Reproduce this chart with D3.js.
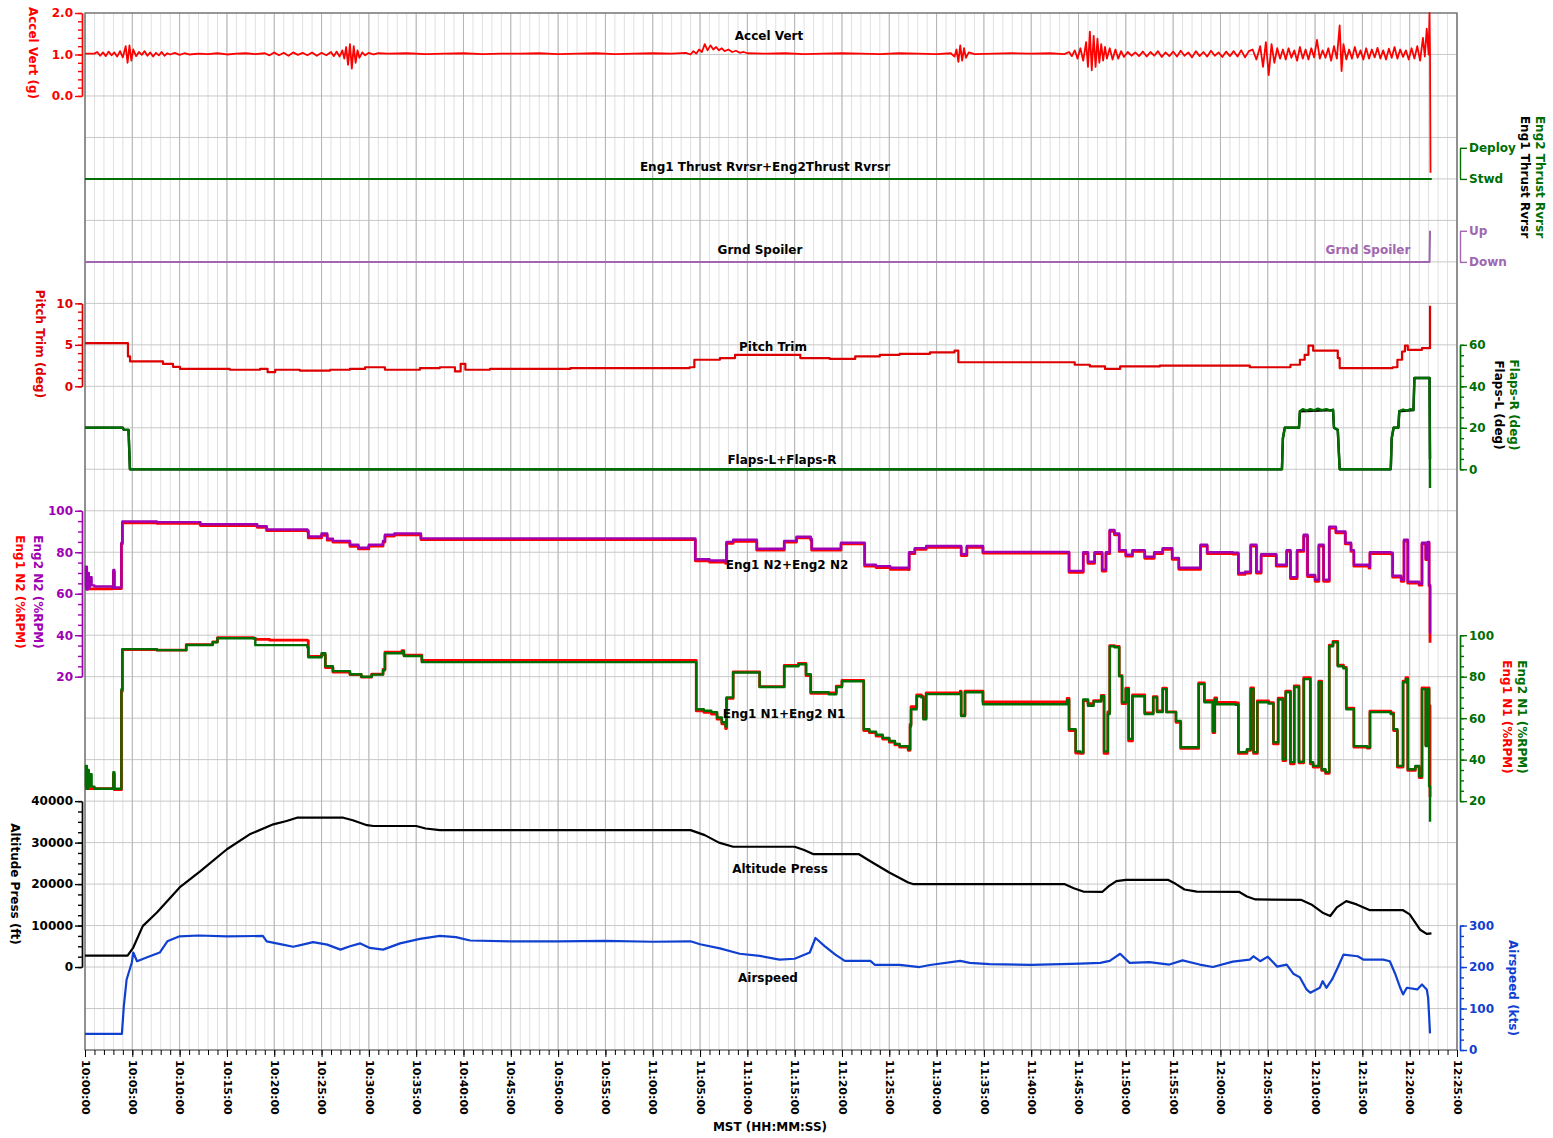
<!DOCTYPE html>
<html>
<head>
<meta charset="utf-8">
<script src="https://cdn.jsdelivr.net/npm/d3@7"></script>
<style>
  body { margin: 0; background: #fff; }
  svg { display: block; font-family: "DejaVu Sans", Verdana, sans-serif; font-weight: bold; }
</style>
</head>
<body>
<div class="chart"></div>
<script>
// all times are minutes after 10:00:00 MST
const accelVert = [[0,1.02],[1,1.02],[1.3,1.06],[1.6,0.97],[1.9,1.05],[2.2,0.96],[2.5,1.07],[2.8,0.98],[3.1,1.05],[3.4,0.95],[3.7,1.08],[4.0,0.93],[4.3,1.2],[4.5,0.8],[4.7,1.22],[4.9,0.85],[5.1,1.12],[5.4,0.96],[5.7,1.06],[6.0,0.99],[6.3,1.08],[6.6,0.97],[6.9,1.05],[7.2,0.95],[7.5,1.04],[7.8,0.98],[8.1,1.06],[8.4,0.97],[8.7,1.03],[9.0,1.0],[9.5,1.04],[10,0.99],[10.5,1.03],[11,1.0],[12,1.02],[13,1.01],[14,1.03],[15,1.0],[16,1.02],[17,1.03],[18,1.01],[19,1.03],[19.5,0.98],[20,1.05],[20.5,0.98],[21,1.04],[21.5,0.97],[22,1.05],[22.5,0.99],[23,1.04],[23.5,0.98],[24,1.05],[24.5,0.97],[25,1.04],[25.5,0.98],[26,1.06],[26.3,0.96],[26.6,1.07],[26.9,0.95],[27.2,1.1],[27.4,0.9],[27.6,1.18],[27.8,0.75],[28.0,1.25],[28.2,0.66],[28.4,1.2],[28.6,0.8],[28.8,1.1],[29.0,0.92],[29.3,1.05],[29.6,0.98],[30,1.04],[30.5,1.0],[31,1.03],[32,1.02],[34,1.03],[36,1.01],[38,1.02],[40,1.03],[42,1.01],[44,1.02],[46,1.02],[48,1.03],[50,1.01],[52,1.02],[54,1.03],[56,1.01],[58,1.02],[60,1.03],[62,1.02],[63.5,1.04],[64,1.0],[64.3,1.08],[64.6,1.02],[64.9,1.12],[65.2,1.06],[65.5,1.25],[65.8,1.1],[66.1,1.22],[66.4,1.12],[66.7,1.18],[67.0,1.1],[67.3,1.15],[67.6,1.08],[68,1.12],[68.4,1.06],[68.8,1.09],[69.2,1.04],[69.6,1.06],[70,1.03],[72,1.02],[74,1.03],[76,1.01],[78,1.02],[80,1.03],[82,1.02],[84,1.01],[86,1.03],[88,1.02],[90,1.01],[91.5,1.03],[91.9,0.95],[92.1,1.12],[92.3,0.82],[92.5,1.22],[92.7,0.85],[92.9,1.15],[93.1,0.92],[93.4,1.05],[94,1.01],[96,1.02],[98,1.03],[100,1.02],[102,1.03],[103.5,1.01],[104,1.06],[104.3,0.96],[104.6,1.1],[104.9,0.9],[105.2,1.15],[105.5,0.85],[105.8,1.3],[106.0,0.7],[106.2,1.55],[106.4,0.62],[106.6,1.45],[106.8,0.7],[107.0,1.38],[107.2,0.8],[107.4,1.25],[107.6,0.85],[107.8,1.18],[108.0,0.9],[108.3,1.15],[108.6,0.88],[108.9,1.12],[109.2,0.9],[109.5,1.08],[109.8,0.94],[110.2,1.06],[110.6,0.97],[111,1.05],[111.4,0.96],[111.8,1.07],[112.2,0.95],[112.6,1.06],[113.0,0.97],[113.4,1.08],[113.8,0.94],[114.2,1.05],[114.6,0.96],[115.0,1.07],[115.4,0.95],[115.8,1.09],[116.2,0.97],[116.6,1.05],[117.0,0.93],[117.4,1.08],[117.8,0.96],[118.2,1.06],[118.6,0.95],[119.0,1.09],[119.4,0.97],[119.8,1.05],[120.2,0.94],[120.6,1.07],[121.0,0.96],[121.4,1.08],[121.8,0.95],[122.2,1.1],[122.6,0.93],[123,1.08],[123.4,1.12],[123.8,0.88],[124.2,1.2],[124.5,0.7],[124.8,1.3],[125.1,0.5],[125.4,1.25],[125.7,0.8],[126.0,1.15],[126.3,0.9],[126.6,1.12],[126.9,0.88],[127.2,1.15],[127.5,0.92],[127.8,1.1],[128.1,0.85],[128.4,1.18],[128.7,0.9],[129.0,1.12],[129.3,0.88],[129.6,1.15],[129.9,0.93],[130.2,1.35],[130.5,0.9],[130.8,1.1],[131.1,0.92],[131.4,1.15],[131.7,0.85],[132.0,1.2],[132.3,0.9],[132.6,1.7],[132.8,0.6],[133.0,1.25],[133.3,0.88],[133.6,1.12],[133.9,0.9],[134.2,1.18],[134.5,0.92],[134.8,1.1],[135.1,0.88],[135.4,1.15],[135.7,0.9],[136.0,1.12],[136.3,0.93],[136.6,1.16],[136.9,0.9],[137.2,1.1],[137.5,0.88],[137.8,1.14],[138.1,0.92],[138.4,1.18],[138.7,0.9],[139.0,1.12],[139.3,0.94],[139.6,1.1],[139.9,0.88],[140.2,1.15],[140.5,0.9],[140.8,1.2],[141.1,0.85],[141.4,1.4],[141.6,0.95],[141.8,1.62],[142.0,1.0],[142.1,2.0],[142.15,1.0],[142.2,-1.85]];

// 0 = Stwd, 1 = Deploy
const eng1ThrustRvrsr = [[0,0],[142.3,0]];
const eng2ThrustRvrsr = [[0,0],[142.3,0]];
// 0 = Down, 1 = Up
const grndSpoiler = [[0,0],[142.1,0],[142.15,1]];

const pitchTrim = [[0,5.2],[4.44,5.2],[4.54,3.6],[4.76,3.0],[7.19,3.0],[8.24,2.7],[9.3,2.35],[10.04,2.1],[12.15,2.1],[15.3,2.0],[18.5,2.1],[19.3,1.7],[20.1,2.0],[22.7,1.9],[25.9,2.0],[28,2.1],[29.6,2.3],[31.7,2.0],[33.8,2.0],[35.4,2.2],[37.5,2.3],[39.1,1.8],[39.7,2.7],[40.2,2.0],[42.8,2.1],[47,2.1],[51.3,2.2],[56.5,2.2],[63.9,2.3],[64.4,3.2],[67.1,3.4],[68.7,3.8],[71.3,3.8],[74.5,3.8],[75.6,3.4],[78.7,3.3],[81.4,3.6],[84,3.8],[86.1,3.9],[89.3,4.1],[91.9,4.3],[92.3,2.9],[96.7,2.9],[103,2.9],[104.6,2.6],[106.2,2.4],[107.8,2.1],[109.4,2.4],[113.6,2.5],[118.9,2.5],[123.1,2.3],[125.8,2.3],[127.4,2.6],[128.4,3.2],[128.9,3.8],[129.3,4.9],[129.7,4.9],[129.8,4.3],[132.1,4.3],[132.4,3.4],[132.6,2.2],[138.2,2.3],[138.7,3.2],[139.2,4.2],[139.5,4.9],[139.8,4.4],[141.1,4.4],[141.3,4.6],[142.05,4.6],[142.15,9.7]];

const flapsL = [[0,20],[4.0,20],[4.1,19],[4.6,19],[4.75,0],[126.5,0],[126.6,15],[126.8,20],[128.3,20],[128.4,28],[131.9,28.5],[132.0,20],[132.4,19],[132.6,0],[138.0,0],[138.1,15],[138.3,20],[138.8,20],[138.9,28],[140.4,28.5],[140.5,44],[142.1,44],[142.15,5]];
const flapsR = [[0,20],[4.0,20],[4.1,19],[4.6,19],[4.75,0],[126.5,0],[126.6,15],[126.8,20],[128.3,20],[128.4,28],[128.7,29],[129.1,28.3],[129.5,29],[129.9,28.4],[130.3,29.2],[130.7,28.5],[131.2,29],[131.6,28.3],[131.9,28.8],[132.0,20],[132.4,19],[132.6,0],[138.0,0],[138.1,15],[138.3,20],[138.8,20],[138.9,28],[139.3,28.8],[139.7,28.3],[140.1,29],[140.4,28.5],[140.5,44],[142.1,44],[142.15,-9]];

const eng1N2 = [[0,62.3],[2.9,62.5],[3.0,70.5],[3.1,62.5],[3.8,62.5],[3.85,84],[3.95,94.2],[7.6,93.9],[12.2,92.9],[18.2,92],[19.2,90.4],[23.5,90],[23.6,86.9],[25.0,88.2],[25.6,85.8],[26.2,84.9],[28,82.9],[28.9,81.6],[30,83],[31.5,84.9],[31.7,87.8],[32.7,88.4],[35.4,88.4],[35.5,86.1],[64.2,86.1],[64.5,75.9],[66.0,75.2],[67.7,74.6],[67.8,84.3],[68.5,85.3],[70.9,85.3],[71.0,81],[73.8,81],[73.9,84.9],[75.2,86.9],[76.7,85.8],[76.8,81],[79.8,81],[79.9,84],[82.2,84],[82.4,73.3],[83.6,72.6],[85.1,71.8],[87.0,71.6],[87.1,79.3],[87.7,81.4],[88.9,82.4],[92.5,82.4],[92.6,78.4],[93.2,82.4],[94.7,82.4],[94.9,79.6],[103.8,79.6],[104.0,70.3],[105.1,70.3],[105.5,79.4],[106.0,74.7],[106.7,79.4],[107.5,70.9],[107.9,79.4],[108.3,90.1],[108.8,88.4],[109.3,80.4],[110.0,78.1],[110.7,80.4],[112.0,77.1],[113.0,79.4],[113.9,81.4],[114.9,76.6],[115.6,71.8],[117.4,71.8],[117.9,83],[118.6,79.4],[121.3,79.1],[121.9,69.3],[122.6,70],[123.2,83],[123.8,70],[124.3,78.4],[125.5,78.4],[125.9,73.3],[127.0,80.4],[127.4,67.3],[128.1,80.4],[128.8,87.8],[129.2,68.3],[130.0,66],[130.4,83],[130.9,66],[131.5,91.6],[132.2,89.4],[133.2,84],[133.8,80.4],[134.1,73.3],[135.7,72.3],[135.8,79.4],[138.0,79.1],[138.2,68],[139.1,66],[139.4,85.4],[139.8,65.1],[141.0,64.1],[141.3,84],[141.7,76.4],[141.9,84.4],[142.05,63.7],[142.15,36.4]];
const eng2N2 = [[0,63],[0.1,73],[0.2,62],[0.3,70],[0.4,63],[0.5,68],[0.7,64],[1.0,63.5],[2.9,63],[3.0,71.5],[3.1,63],[3.8,63],[3.85,84.6],[3.95,94.8],[7.6,94.5],[12.2,93.5],[18.2,92.5],[19.2,91],[23.5,90.5],[23.6,87.6],[25.0,89],[25.6,86.5],[26.2,85.5],[28,83.6],[28.9,82.2],[30.0,83.6],[31.5,85.5],[31.7,88.4],[32.7,89],[35.4,89],[35.5,86.7],[64.2,86.7],[64.5,76.6],[66.0,76],[67.7,75.4],[67.8,85],[68.5,86],[70.9,86],[71.0,81.7],[73.8,81.7],[73.9,85.5],[75.2,87.5],[76.7,86.5],[76.8,81.7],[79.8,81.7],[79.9,84.6],[82.2,84.6],[82.4,74],[83.6,73.3],[85.1,72.5],[87.0,72.3],[87.1,80],[87.7,82],[88.9,83],[92.5,83],[92.6,79],[93.2,83],[94.7,83],[94.9,80.2],[103.8,80.2],[104.0,71],[105.1,71],[105.5,80],[106.0,75.4],[106.7,80],[107.5,71.6],[107.9,80],[108.3,90.8],[108.8,89],[109.3,81],[110.0,78.8],[110.7,81],[112.0,77.8],[113.0,80],[113.9,82],[114.9,77.3],[115.6,72.5],[117.4,72.5],[117.9,83.6],[118.6,80],[121.3,79.8],[121.9,70],[122.6,70.6],[123.2,83.6],[123.8,70.6],[124.3,79],[125.5,79],[125.9,74],[127.0,81],[127.4,68],[128.1,81],[128.8,88.4],[129.2,69],[130.0,66.7],[130.4,83.6],[130.9,66.7],[131.5,92.3],[132.2,90],[133.2,84.6],[133.8,81],[134.1,74],[135.7,73],[135.8,80],[138.0,79.8],[138.2,68.7],[139.1,66.7],[139.4,86],[139.8,65.8],[141.0,64.8],[141.3,84.6],[141.7,77],[141.9,85],[142.05,64.4],[142.15,40.7]];

const eng1N1 = [[0,26],[2.9,26],[3.0,33],[3.1,25.5],[3.8,25.5],[3.85,73],[3.95,93],[7.6,92.8],[10.7,95.5],[13.5,96.8],[14.0,98.8],[17.8,98.5],[18.0,98],[19.5,97.6],[23.5,97.4],[23.6,89.8],[25.0,90.5],[25.4,84.4],[26.2,82.2],[28,81],[29.2,79.8],[30.3,81.2],[31.5,83.5],[31.7,91.8],[33.5,92.6],[33.7,90.4],[35.4,90.4],[35.6,87.8],[64.2,87.8],[64.6,63.5],[65.4,62.8],[66.2,62],[66.8,59.5],[67.3,57.3],[67.7,55],[67.8,69.5],[68.5,82.3],[70.9,82.3],[71.3,75.2],[73.8,75.2],[73.9,85.4],[75.4,86.4],[76.2,80.5],[76.7,72],[78.6,72.2],[79.4,75.4],[80.0,78.2],[82.0,78.2],[82.3,54],[82.9,53],[83.6,51.4],[84.3,49.9],[85.0,48.4],[85.6,47.1],[86.1,46],[87.0,44.5],[87.2,57],[87.3,65.5],[87.9,71.2],[88.4,70.5],[88.6,60],[88.9,72.2],[92.5,73],[92.6,61.5],[93.0,73],[94.7,73],[94.9,67.8],[103.8,69.5],[104.0,54],[104.7,43.2],[105.2,43],[105.5,68.5],[106.0,67],[106.6,68.5],[107.4,71],[107.7,43],[108.1,63],[108.3,95],[108.8,94.6],[109.3,80.5],[109.6,67],[110.0,74.5],[110.3,49],[110.7,71.2],[112.0,62.5],[112.9,70.4],[113.3,63.5],[113.9,74.5],[114.3,63],[115.3,58],[115.8,45.4],[117.4,45.4],[117.7,77],[118.3,68.4],[119.2,53],[119.4,69.8],[119.6,67.6],[121.6,67.4],[121.9,43],[122.8,44.5],[123.2,74.6],[123.5,43],[123.9,68.3],[125.1,67.5],[125.6,47.6],[126.1,69.6],[126.6,39.5],[126.9,73],[127.4,38],[127.8,75.5],[128.3,38.5],[128.8,79.5],[129.5,38],[129.8,36.4],[130.4,77.8],[130.7,34.8],[131.1,33.4],[131.5,95.2],[131.9,97],[132.4,85.5],[133.0,84.5],[133.3,64.8],[134.1,46],[135.5,45.6],[135.8,63.4],[138.0,62.5],[138.3,54],[138.7,36.4],[139.3,77.8],[139.6,79.5],[139.8,34.8],[140.6,36.5],[141.0,31.4],[141.3,74.6],[141.7,47],[141.9,74.6],[142.05,66],[142.15,22]];
const eng2N1 = [[0,26.7],[0.1,37],[0.2,26],[0.3,35],[0.4,27],[0.5,33],[0.7,27],[1.0,26],[2.9,26],[3.0,34],[3.1,26],[3.8,26],[3.85,74],[3.95,93.3],[7.6,92.8],[10.7,95.3],[13.5,96.6],[14.0,98.5],[17.8,98.5],[18.0,95.2],[23.5,94.2],[23.6,89.4],[25.0,91.3],[25.4,85],[26.2,82.7],[28,81.2],[29.2,80],[30.3,81],[31.5,83.1],[31.7,91.3],[33.5,92.3],[33.7,90],[35.4,90],[35.6,87],[64.2,87],[64.6,64.3],[65.4,63.6],[66.2,62.9],[66.8,60.3],[67.3,58],[67.7,56],[67.8,70],[68.5,82],[70.9,82],[71.3,75],[73.8,75],[73.9,85],[75.4,86],[76.2,81.2],[76.7,72.5],[78.6,71.5],[79.4,75],[80.0,77.8],[82.0,77.8],[82.3,54.7],[82.9,53.5],[83.6,52],[84.3,50.5],[85.0,49],[85.6,47.6],[86.1,46.5],[87.0,45],[87.2,56],[87.3,64.3],[87.9,70.6],[88.4,70],[88.6,59.5],[88.9,71.6],[92.5,72.5],[92.6,61],[93.0,72.5],[94.7,72.5],[94.9,66.7],[103.8,68.7],[104.0,54.7],[104.7,44],[105.2,43.5],[105.5,69],[106.0,66],[106.6,68],[107.4,70.6],[107.7,44],[108.1,62],[108.3,94.7],[108.8,94.2],[109.3,80.2],[109.6,67.7],[110.0,74],[110.3,50],[110.7,70.6],[112.0,62],[112.9,70],[113.3,63],[113.9,74],[114.3,62.9],[115.3,58.6],[115.8,46],[117.4,46],[117.7,76.4],[118.3,67.7],[119.2,53.7],[119.4,69],[119.6,66.7],[121.6,66.5],[121.9,43.6],[122.8,45],[123.2,74],[123.5,43.6],[123.9,67.7],[125.1,67],[125.6,48.4],[126.1,69],[126.6,40.2],[126.9,72.5],[127.4,38.8],[127.8,75],[128.3,39],[128.8,78.8],[129.5,38.8],[129.8,37],[130.4,77.3],[130.7,35.4],[131.1,34],[131.5,94.7],[131.9,96.6],[132.4,85],[133.0,84],[133.3,64.3],[134.1,46.5],[135.5,46],[135.8,62.9],[138.0,62],[138.3,54.7],[138.7,37],[139.3,77.3],[139.6,78.8],[139.8,35.4],[140.6,37],[141.0,32],[141.3,74],[141.7,46.5],[141.9,74],[142.05,27.2],[142.15,10]];

const altitudePress = [[0,2750],[4.5,2750],[5.1,4700],[6.1,9860],[7.6,13150],[10.0,19200],[12.2,23100],[15.0,28400],[17.4,32000],[19.9,34400],[21.3,35200],[22.4,36000],[27.3,36000],[28.3,35400],[29.8,34200],[30.5,34000],[35.0,34000],[36.0,33400],[37.5,33000],[64.0,33000],[65.5,31800],[67.0,30000],[68.5,29000],[75.0,29000],[76.0,28200],[77.0,27200],[81.8,27200],[83.0,25500],[85.0,22800],[87.0,20400],[87.5,20000],[103.5,20000],[104.5,19000],[105.5,18200],[107.5,18100],[108.2,19500],[109.0,20700],[110.0,21000],[114.5,21000],[115.3,20000],[116.2,18700],[117.5,18200],[122.0,18100],[122.8,17000],[123.7,16300],[128.5,16200],[129.6,15100],[130.8,13100],[131.6,12300],[132.3,14400],[133.3,15900],[134.4,15100],[135.8,13700],[139.3,13700],[140.0,12700],[141.1,9000],[141.8,8000],[142.3,8100]];

const airspeed = [[0,39],[3.9,39],[4.1,105],[4.4,170],[4.95,211],[5.1,235],[5.5,214],[6.5,223],[7.9,235],[8.7,262],[10.0,274],[12,276],[15,274],[18.8,275],[19.2,262],[20.9,254],[22.0,249],[23.0,254],[24.1,260],[25.6,254],[27.0,242],[28.0,250],[29.1,257],[30.1,246],[31.5,242],[33.3,257],[35.4,268],[37.5,275],[39.2,272],[40.7,264],[45,262],[50,262],[55,263],[60,261],[64.0,262],[65.0,255],[67.1,245],[69.2,232],[71.3,227],[73.4,218],[75.0,220],[76.6,235],[77.2,270],[78.2,250],[79.3,230],[80.3,215],[83.0,215],[83.5,205],[86.1,205],[88.2,200],[89.3,205],[92.5,215],[93.5,210],[95.6,207],[100,205],[105.2,208],[107.3,210],[108.3,215],[109.4,232],[110.4,210],[112.5,212],[114.6,206],[116.0,216],[117.8,206],[119.2,200],[121.3,213],[123.1,218],[123.5,226],[124.2,214],[125.0,225],[126.0,201],[127.0,206],[127.7,184],[128.4,175],[129.1,146],[129.5,138],[130.5,150],[130.8,166],[131.2,150],[131.8,170],[132.4,199],[133.0,230],[134.5,226],[135.1,218],[137.2,218],[137.9,214],[138.5,182],[139.0,150],[139.3,134],[139.7,150],[140.8,146],[141.3,158],[141.8,146],[141.95,126],[142.15,40]];

const trLabels = ["Stwd", "Deploy"];
const spLabels = ["Down", "Up"];

document.addEventListener("DOMContentLoaded", function() {
  const W = 1553, H = 1138;
  const left = 85, right = 1457, top = 13, bottom = 1050;
  const RED = "#ff0000", TRIM = "#dd0000", GREEN = "#006e00", PURPLE = "#a000b4",
        SPOIL = "#a066b0", BLUE = "#1040d0", BLACK = "#000000";

  const svg = d3.select(".chart").append("svg")
    .attr("width", W).attr("height", H);
  svg.append("rect").attr("width", W).attr("height", H).attr("fill", "#fff");

  const t0 = Date.UTC(2000, 0, 1, 10, 0, 0);
  const toDate = m => new Date(t0 + m * 60000);
  const x = d3.scaleUtc().domain([toDate(0), toDate(145)]).range([left, right]);
  const row = d3.scaleLinear().domain([0, 25]).range([top, bottom]);

  // one y scale per trace band
  const accelY = d3.scaleLinear().domain([0, 2]).range([row(2), row(0)]);
  const trY = d3.scaleLinear().domain([0, 1]).range([row(4), row(3.25)]);
  const spY = d3.scaleLinear().domain([0, 1]).range([row(6), row(5.25)]);
  const pitchY = d3.scaleLinear().domain([0, 10]).range([row(9), row(7)]);
  const flapsY = d3.scaleLinear().domain([0, 60]).range([row(11), row(8)]);
  const n2Y = d3.scaleLinear().domain([20, 100]).range([row(16), row(12)]);
  const n1Y = d3.scaleLinear().domain([20, 100]).range([row(19), row(15)]);
  const altY = d3.scaleLinear().domain([0, 40000]).range([row(23), row(19)]);
  const spdY = d3.scaleLinear().domain([0, 300]).range([row(25), row(22)]);

  // grid
  const grid = svg.append("g");
  grid.selectAll(".vmin").data(x.ticks(d3.utcMinute.every(1))).enter().append("line")
    .attr("x1", d => x(d)).attr("x2", d => x(d)).attr("y1", top).attr("y2", bottom)
    .attr("stroke", "#e0e0e0").attr("stroke-width", 1);
  grid.selectAll(".hrow").data(d3.range(26)).enter().append("line")
    .attr("x1", left).attr("x2", right).attr("y1", d => row(d)).attr("y2", d => row(d))
    .attr("stroke", "#c8c8c8").attr("stroke-width", 1);
  grid.selectAll(".vmaj").data(x.ticks(d3.utcMinute.every(5))).enter().append("line")
    .attr("x1", d => x(d)).attr("x2", d => x(d)).attr("y1", top).attr("y2", bottom)
    .attr("stroke", "#b4b4b4").attr("stroke-width", 1);
  svg.append("rect").attr("x", left).attr("y", top)
    .attr("width", right - left).attr("height", bottom - top)
    .attr("fill", "none").attr("stroke", "#6e6e6e").attr("stroke-width", 1.3);

  // time axis
  const xg = svg.append("g").attr("transform", `translate(0,${bottom})`);
  xg.append("g").call(d3.axisBottom(x).ticks(d3.utcMinute.every(1)).tickSize(5).tickFormat(""));
  xg.append("g").call(d3.axisBottom(x).ticks(d3.utcMinute.every(5)).tickSize(7)
      .tickFormat(d3.utcFormat("%H:%M:%S")))
    .attr("font-family", null).attr("font-size", 11)
    .selectAll("text")
      .attr("transform", "rotate(90)")
      .attr("x", 10).attr("y", 0).attr("dy", "0.35em")
      .style("text-anchor", "start").attr("fill", "#000");
  xg.selectAll("path").remove();
  xg.selectAll("line").attr("stroke", "#000");
  svg.append("text").attr("x", 770).attr("y", 1131).attr("text-anchor", "middle")
    .attr("font-size", 12).text("MST (HH:MM:SS)");

  // vertical axes
  function vAxis(side, scale, xPos, color, majors, minors, fmt) {
    const mk = side === "left" ? d3.axisLeft : d3.axisRight;
    const g = svg.append("g").attr("transform", `translate(${xPos},0)`);
    if (minors) g.append("g").call(mk(scale).tickValues(minors).tickSize(4).tickSizeOuter(0).tickFormat(""));
    g.append("g").call(mk(scale).tickValues(majors).tickSize(7).tickSizeOuter(0).tickPadding(2).tickFormat(fmt))
      .attr("font-family", null).attr("font-size", 12);
    g.selectAll("path, line").attr("stroke", color).attr("stroke-width", 1.4);
    g.selectAll("text").attr("fill", color);
  }
  const f1 = d3.format(".1f"), f0 = d3.format("d");
  vAxis("left", accelY, 82, RED, [0, 1, 2], d3.range(0, 2.01, 0.2), f1);
  vAxis("left", pitchY, 82, TRIM, [0, 5, 10], d3.range(0, 10.1, 1), f0);
  vAxis("left", n2Y, 82, PURPLE, [20, 40, 60, 80, 100], d3.range(20, 101, 5), f0);
  vAxis("left", altY, 82, BLACK, [0, 10000, 20000, 30000, 40000], d3.range(0, 40001, 2500), f0);
  vAxis("right", trY, 1460, GREEN, [0, 1], null, d => trLabels[d]);
  vAxis("right", spY, 1460, SPOIL, [0, 1], null, d => spLabels[d]);
  vAxis("right", flapsY, 1460, GREEN, [0, 20, 40, 60], d3.range(0, 61, 5), f0);
  vAxis("right", n1Y, 1460, GREEN, [20, 40, 60, 80, 100], d3.range(20, 101, 5), f0);
  vAxis("right", spdY, 1460, BLUE, [0, 100, 200, 300], d3.range(0, 301, 25), f0);

  // rotated axis titles
  function vTitle(txt, cx, cy, color) {
    svg.append("text").attr("transform", `translate(${cx},${cy}) rotate(90)`)
      .attr("text-anchor", "middle").attr("dy", "0.35em")
      .attr("font-size", 12).attr("fill", color).text(txt);
  }
  vTitle("Accel Vert (g)", 33, 53, RED);
  vTitle("Pitch Trim (deg)", 40, 344, TRIM);
  vTitle("Eng2 N2 (%RPM)", 38, 592, PURPLE);
  vTitle("Eng1 N2 (%RPM)", 20, 592, RED);
  vTitle("Altitude Press (ft)", 15, 884, BLACK);
  vTitle("Eng2 Thrust Rvrsr", 1540, 177, GREEN);
  vTitle("Eng1 Thrust Rvrsr", 1525, 177, BLACK);
  vTitle("Flaps-R (deg)", 1514, 405, GREEN);
  vTitle("Flaps-L (deg)", 1499, 405, BLACK);
  vTitle("Eng2 N1 (%RPM)", 1522, 717, GREEN);
  vTitle("Eng1 N1 (%RPM)", 1507, 717, RED);
  vTitle("Airspeed (kts)", 1513, 988, BLUE);

  // traces: recorder parameters are sampled, so discrete ones are drawn as steps
  function trace(data, yScale, color, width, curve) {
    const line = d3.line().curve(curve || d3.curveLinear)
      .x(d => x(toDate(d[0]))).y(d => yScale(d[1]));
    svg.append("path").datum(data).attr("d", line)
      .attr("fill", "none").attr("stroke", color)
      .attr("stroke-width", width).attr("stroke-linejoin", "round");
  }
  const step = d3.curveStepAfter;
  trace(accelVert, accelY, RED, 1.8);
  trace(eng1ThrustRvrsr, trY, BLACK, 2);
  trace(eng2ThrustRvrsr, trY, GREEN, 2);
  trace(grndSpoiler, spY, SPOIL, 2);
  trace(pitchTrim, pitchY, TRIM, 2.2, step);
  trace(flapsL, flapsY, BLACK, 2.4);
  trace(flapsR, flapsY, GREEN, 2.4);
  trace(eng1N2, n2Y, RED, 2.8, step);
  trace(eng2N2, n2Y, PURPLE, 2.4, step);
  trace(eng1N1, n1Y, RED, 2.8, step);
  trace(eng2N1, n1Y, GREEN, 2.4, step);
  trace(altitudePress, altY, BLACK, 2.2);
  trace(airspeed, spdY, BLUE, 2.2);

  // trace labels
  const labels = [
    ["Accel Vert", 769, 40, BLACK],
    ["Eng1 Thrust Rvrsr+Eng2Thrust Rvrsr", 765, 171, BLACK],
    ["Grnd Spoiler", 760, 254, BLACK],
    ["Grnd Spoiler", 1368, 254, SPOIL],
    ["Pitch Trim", 773, 351, BLACK],
    ["Flaps-L+Flaps-R", 782, 464, BLACK],
    ["Eng1 N2+Eng2 N2", 787, 569, BLACK],
    ["Eng1 N1+Eng2 N1", 784, 718, BLACK],
    ["Altitude Press", 780, 873, BLACK],
    ["Airspeed", 768, 982, BLACK]
  ];
  svg.selectAll(".lbl").data(labels).enter().append("text")
    .attr("x", d => d[1]).attr("y", d => d[2]).attr("text-anchor", "middle")
    .attr("font-size", 12).attr("fill", d => d[3]).text(d => d[0]);
});
</script>
</body>
</html>
